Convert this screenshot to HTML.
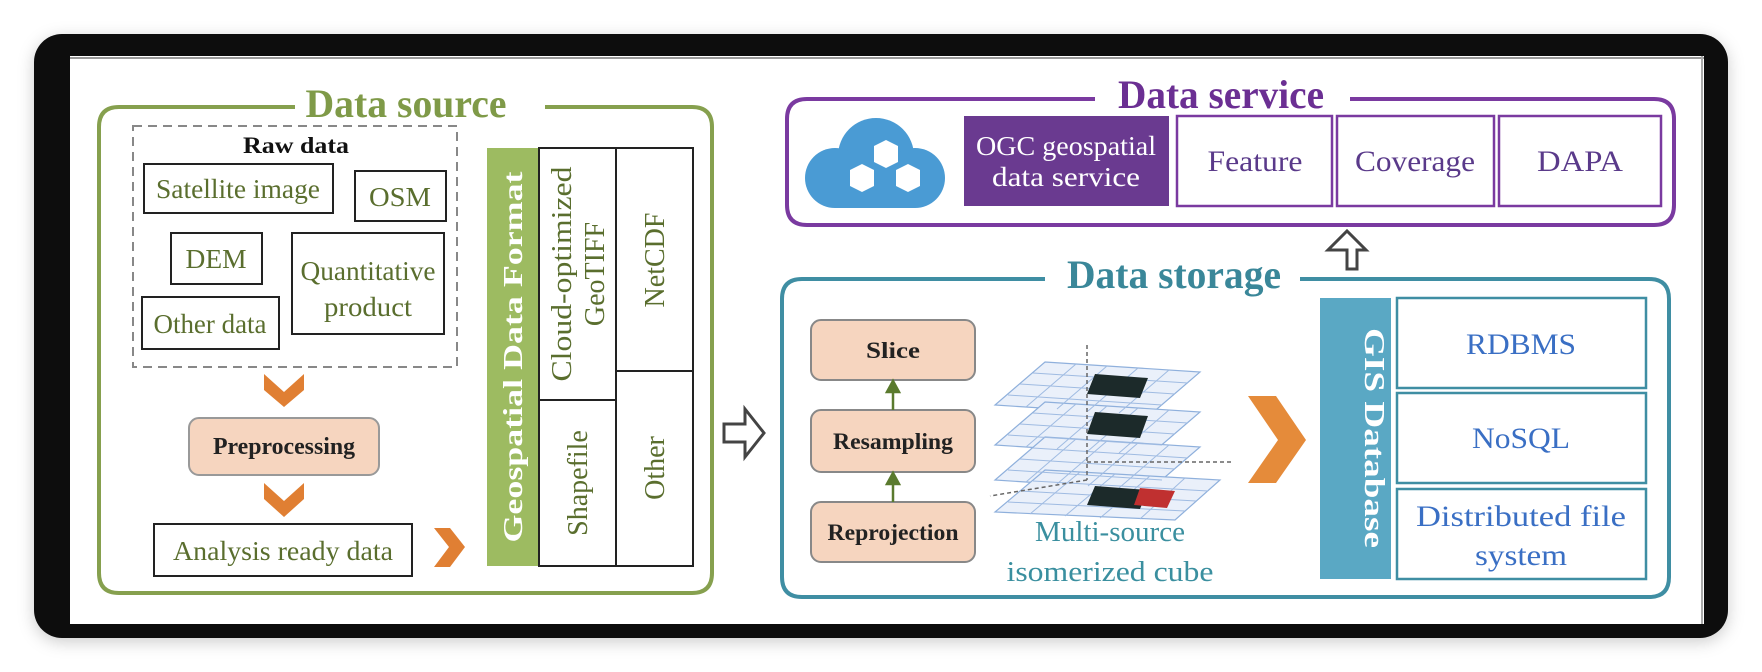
<!DOCTYPE html>
<html><head><meta charset="utf-8"><style>
html,body{margin:0;padding:0;background:#fff;}
svg{display:block;}
text{font-family:"Liberation Serif",serif;}
</style></head><body>
<svg width="1762" height="672" viewBox="0 0 1762 672" xmlns="http://www.w3.org/2000/svg">
<defs>
<filter id="sh" x="-5%" y="-5%" width="110%" height="115%"><feDropShadow dx="0" dy="4" stdDeviation="8" flood-color="#000" flood-opacity="0.2"/></filter>
<pattern id="grid" width="22" height="22" patternUnits="userSpaceOnUse"><path d="M0 0H22M0 0V22" stroke="#9fbbe2" stroke-width="1" fill="none"/></pattern>
</defs>
<rect x="0" y="0" width="1762" height="672" fill="#fff"/>
<rect x="34" y="34" width="1694" height="604" rx="28" fill="#0d0d0d" filter="url(#sh)"/>
<rect x="70" y="56" width="1634" height="568" fill="#fff"/>
<line x1="70" y1="58" x2="1704" y2="58" stroke="#999" stroke-width="2"/>
<line x1="1702" y1="56" x2="1702" y2="624" stroke="#aaa" stroke-width="2"/>

<!-- Data source -->
<path d="M295 107 H119 Q99 107 99 127 V573 Q99 593 119 593 H692 Q712 593 712 573 V127 Q712 107 692 107 H545" fill="none" stroke="#86a04e" stroke-width="4"/>
<text x="406" y="117" font-size="40" font-weight="bold" fill="#7f9a48" text-anchor="middle" textLength="201" lengthAdjust="spacingAndGlyphs">Data source</text>
<rect x="133" y="126" width="324" height="241" fill="none" stroke="#888" stroke-width="2" stroke-dasharray="9,6"/>
<text x="296" y="153" font-size="23" font-weight="bold" fill="#111" text-anchor="middle" textLength="106" lengthAdjust="spacingAndGlyphs">Raw data</text>
<g fill="#fff" stroke="#222" stroke-width="2">
<rect x="144" y="164" width="189" height="49"/>
<rect x="355" y="171" width="91" height="50"/>
<rect x="171" y="233" width="91" height="51"/>
<rect x="292" y="233" width="152" height="101"/>
<rect x="142" y="297" width="137" height="52"/>
<rect x="154" y="524" width="258" height="52"/>
</g>
<g font-size="27" fill="#5a6e2e" text-anchor="middle">
<text x="238" y="198" textLength="164" lengthAdjust="spacingAndGlyphs">Satellite image</text>
<text x="400" y="206" textLength="62" lengthAdjust="spacingAndGlyphs">OSM</text>
<text x="216" y="268" textLength="61" lengthAdjust="spacingAndGlyphs">DEM</text>
<text x="368" y="280" textLength="135" lengthAdjust="spacingAndGlyphs">Quantitative</text>
<text x="368" y="316" textLength="88" lengthAdjust="spacingAndGlyphs">product</text>
<text x="210" y="333" textLength="113" lengthAdjust="spacingAndGlyphs">Other data</text>
<text x="283" y="560" textLength="220" lengthAdjust="spacingAndGlyphs">Analysis ready data</text>
</g>
<g fill="#e07f33">
<polygon points="264,374 284,392 304,374 304,390 284,407 264,390"/>
<polygon points="264,483 284,501 304,483 304,499 284,517 264,499"/>
<polygon points="434,528 450,528 465,547 450,567 434,567 449,547"/>
</g>
<rect x="189" y="418" width="190" height="57" rx="10" fill="#f6d5bf" stroke="#999" stroke-width="2"/>
<text x="284" y="454" font-size="24" font-weight="bold" fill="#222" text-anchor="middle" textLength="142" lengthAdjust="spacingAndGlyphs">Preprocessing</text>

<rect x="487" y="148" width="52" height="418" fill="#9dbb61"/>
<text transform="translate(522,357) rotate(-90)" font-size="27" font-weight="bold" fill="#fff" text-anchor="middle" textLength="371" lengthAdjust="spacingAndGlyphs">Geospatial Data Format</text>
<g fill="#fff" stroke="#222" stroke-width="2">
<rect x="539" y="148" width="77" height="252"/>
<rect x="539" y="400" width="77" height="166"/>
<rect x="616" y="148" width="77" height="223"/>
<rect x="616" y="371" width="77" height="195"/>
</g>
<g font-size="28" fill="#5a6e2e" text-anchor="middle">
<text transform="translate(571,274) rotate(-90)" textLength="215" lengthAdjust="spacingAndGlyphs">Cloud-optimized</text>
<text transform="translate(604,274) rotate(-90)">GeoTIFF</text>
<text transform="translate(664,260) rotate(-90)">NetCDF</text>
<text transform="translate(587,483) rotate(-90)">Shapefile</text>
<text transform="translate(664,468) rotate(-90)">Other</text>
</g>
<polygon points="724,424 745,424 745,409 764,433 745,457 745,442 724,442" fill="#fff" stroke="#444" stroke-width="3"/>

<!-- Data service -->
<path d="M1095 99 H807 Q787 99 787 119 V205 Q787 225 807 225 H1654 Q1674 225 1674 205 V119 Q1674 99 1654 99 H1350" fill="none" stroke="#7a3aa0" stroke-width="4"/>
<text x="1221" y="108" font-size="40" font-weight="bold" fill="#6b2f93" text-anchor="middle" textLength="206" lengthAdjust="spacingAndGlyphs">Data service</text>
<g fill="#4a9bd4">
<circle cx="876" cy="156" r="38"/>
<circle cx="835" cy="178" r="30"/>
<circle cx="915" cy="178" r="30"/>
<rect x="835" y="160" width="80" height="48"/>
</g>
<g fill="#fff">
<polygon points="874,146 886,140 898,146 898,162 886,168 874,162"/>
<polygon points="850,170 862,164 874,170 874,186 862,192 850,186"/>
<polygon points="896,170 908,164 920,170 920,186 908,192 896,186"/>
</g>
<rect x="964" y="116" width="205" height="90" fill="#6a3a90"/>
<text x="1066" y="155" font-size="27" fill="#fff" text-anchor="middle" textLength="180" lengthAdjust="spacingAndGlyphs">OGC geospatial</text>
<text x="1066" y="186" font-size="27" fill="#fff" text-anchor="middle" textLength="148" lengthAdjust="spacingAndGlyphs">data service</text>
<g fill="#fff" stroke="#7a3aa0" stroke-width="2.5">
<rect x="1177" y="116" width="155" height="90"/>
<rect x="1337" y="116" width="157" height="90"/>
<rect x="1499" y="116" width="162" height="90"/>
</g>
<g font-size="30" fill="#5a3a8a" text-anchor="middle">
<text x="1255" y="171" textLength="95" lengthAdjust="spacingAndGlyphs">Feature</text>
<text x="1415" y="171" textLength="120" lengthAdjust="spacingAndGlyphs">Coverage</text>
<text x="1580" y="171" textLength="86" lengthAdjust="spacingAndGlyphs">DAPA</text>
</g>
<polygon points="1347,269 1347,250 1328,250 1347,231 1366,250 1357,250 1357,269" fill="#fff" stroke="#444" stroke-width="3"/>

<!-- Data storage -->
<path d="M1045 279 H802 Q782 279 782 299 V577 Q782 597 802 597 H1649 Q1669 597 1669 577 V299 Q1669 279 1649 279 H1300" fill="none" stroke="#3f8ea3" stroke-width="4"/>
<text x="1174" y="288" font-size="40" font-weight="bold" fill="#3a8799" text-anchor="middle" textLength="214" lengthAdjust="spacingAndGlyphs">Data storage</text>
<g fill="#f6d5bf" stroke="#888" stroke-width="2">
<rect x="811" y="320" width="164" height="60" rx="10"/>
<rect x="811" y="410" width="164" height="62" rx="10"/>
<rect x="811" y="502" width="164" height="60" rx="10"/>
</g>
<g font-size="23" font-weight="bold" fill="#222" text-anchor="middle">
<text x="893" y="358" textLength="54" lengthAdjust="spacingAndGlyphs">Slice</text>
<text x="893" y="449" textLength="120" lengthAdjust="spacingAndGlyphs">Resampling</text>
<text x="893" y="540" textLength="131" lengthAdjust="spacingAndGlyphs">Reprojection</text>
</g>
<g stroke="#5a7a2e" stroke-width="2.5" fill="#5a7a2e">
<line x1="893" y1="410" x2="893" y2="388"/><polygon points="887,392 893,381 899,392"/>
<line x1="893" y1="502" x2="893" y2="480"/><polygon points="887,484 893,473 899,484"/>
</g>
<!-- cube -->
<g stroke="#8fb0dc" stroke-width="1.2" fill="#eaf0fa">
<polygon points="1045,362 1200,372 1150,415 995,405"/>
<polygon points="1045,402 1200,412 1150,455 995,445"/>
<polygon points="1045,437 1200,447 1150,490 995,480"/>
<polygon points="1045,470 1220,480 1175,520 995,512"/>
</g>
<g stroke="#9fbbe2" stroke-width="1" fill="none">
<path d="M1076,364 L1026,407 M1107,366 L1057,409 M1138,368 L1088,411 M1169,370 L1119,413 M1033,373 L1188,383 M1020,384 L1175,394 M1008,395 L1162,405"/>
<path d="M1076,404 L1026,447 M1107,406 L1057,449 M1138,408 L1088,451 M1169,410 L1119,453 M1033,413 L1188,423 M1020,424 L1175,434 M1008,435 L1162,445"/>
<path d="M1076,439 L1026,482 M1107,441 L1057,484 M1138,443 L1088,486 M1169,445 L1119,488 M1033,448 L1188,458 M1020,459 L1175,469 M1008,470 L1162,480"/>
<path d="M1080,472 L1030,514 M1115,474 L1065,516 M1150,476 L1100,518 M1185,478 L1140,519 M1033,481 L1208,491 M1020,491 L1196,501 M1008,502 L1185,511"/>
</g>
<g fill="#1c2a2a">
<polygon points="1095,374 1148,378 1140,398 1087,394"/>
<polygon points="1095,412 1148,416 1140,438 1087,434"/>
<polygon points="1095,486 1148,490 1140,509 1087,505"/>
</g>
<polygon points="1140,488 1175,491 1167,508 1134,505" fill="#c03030"/>
<g stroke="#666" stroke-width="1.5" stroke-dasharray="4,3" fill="none">
<line x1="1087" y1="345" x2="1087" y2="480"/>
<line x1="1087" y1="462" x2="1232" y2="462"/>
<line x1="1087" y1="480" x2="990" y2="496"/>
</g>
<g font-size="29" fill="#3a8f9f" text-anchor="middle">
<text x="1110" y="541" textLength="150" lengthAdjust="spacingAndGlyphs">Multi-source</text>
<text x="1110" y="581" textLength="207" lengthAdjust="spacingAndGlyphs">isomerized cube</text>
</g>
<polygon points="1248,396 1276,396 1306,440 1276,483 1248,483 1278,440" fill="#e58b3a"/>
<rect x="1320" y="298" width="71" height="281" fill="#5aa8c4"/>
<text transform="translate(1365,438) rotate(90)" font-size="28" font-weight="bold" fill="#fff" text-anchor="middle" textLength="220" lengthAdjust="spacingAndGlyphs">GIS Database</text>
<g fill="#fff" stroke="#3f8ea3" stroke-width="2.5">
<rect x="1397" y="298" width="249" height="90"/>
<rect x="1397" y="393" width="249" height="90"/>
<rect x="1397" y="489" width="249" height="90"/>
</g>
<g font-size="30" fill="#3a6fc4" text-anchor="middle">
<text x="1521" y="354" textLength="110" lengthAdjust="spacingAndGlyphs">RDBMS</text>
<text x="1521" y="448" textLength="98" lengthAdjust="spacingAndGlyphs">NoSQL</text>
<text x="1521" y="526" textLength="210" lengthAdjust="spacingAndGlyphs">Distributed file</text>
<text x="1521" y="565" textLength="92" lengthAdjust="spacingAndGlyphs">system</text>
</g>
</svg>
</body></html>
